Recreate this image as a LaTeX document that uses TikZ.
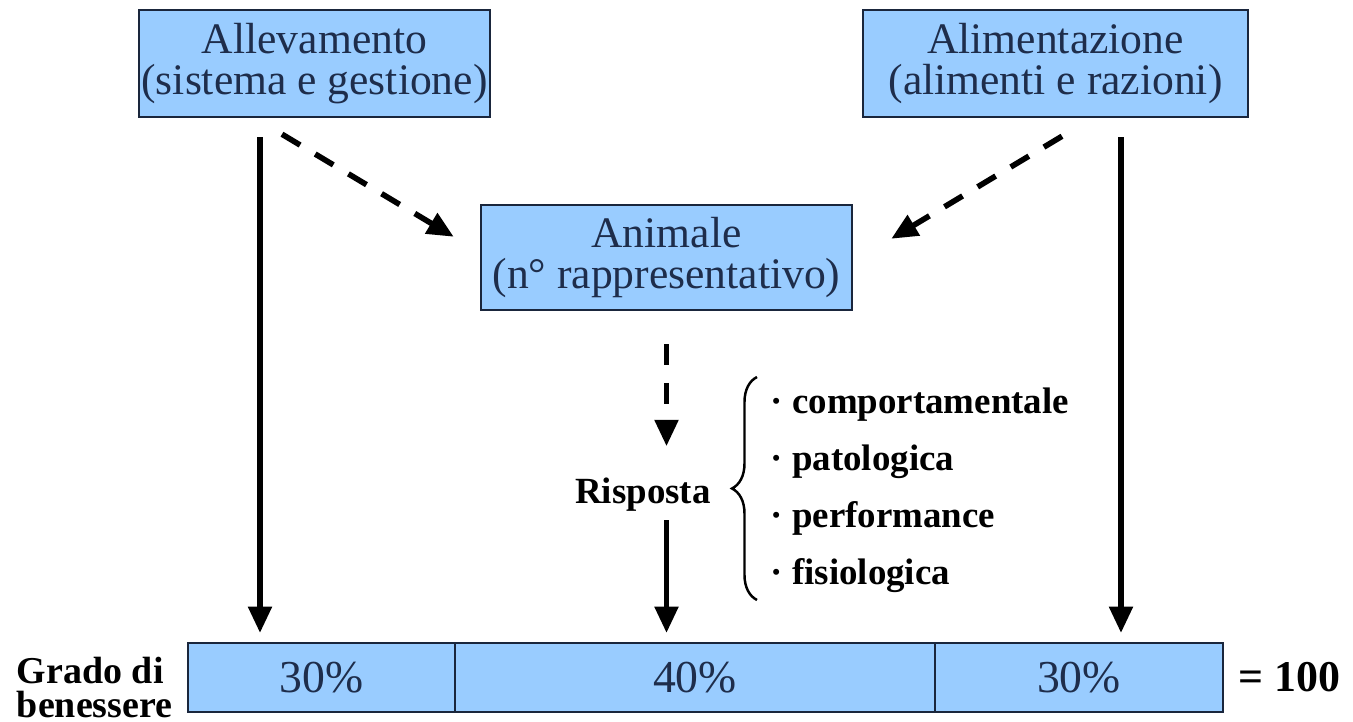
\documentclass[tikz,border=0pt]{standalone}
\usepackage{fontspec}
\setmainfont{Liberation Serif}
\usetikzlibrary{arrows.meta,positioning,decorations.pathreplacing}
\definecolor{boxfill}{RGB}{153,204,255}
\definecolor{boxline}{RGB}{26,38,60}
\definecolor{boxtext}{RGB}{30,45,75}

\begin{document}
\begin{tikzpicture}[
  box/.style={draw=boxline,line width=0.7pt,fill=boxfill,text=boxtext,align=center,
    font=\fontsize{12.4}{11.6}\selectfont,inner sep=0pt},
  cell/.style={box,font=\fontsize{13}{14}\selectfont,minimum height=0.69cm,anchor=west,outer sep=0pt},
  bold/.style={font=\fontsize{10.5}{16.2}\selectfont\bfseries,inner sep=0pt},
  solidarrow/.style={line width=1.6pt,-{Triangle[length=7.5pt,width=6.5pt]}},
  dasharrow/.style={solidarrow,dash pattern=on 6pt off 5pt}]
  \useasboundingbox (0,0) rectangle (13.53,7.21);
  \node[box,minimum width=3.51cm,minimum height=1.07cm] (alle) at (3.145,6.575) {Allevamento\\(sistema e gestione)};
  \node[box,minimum width=3.85cm,minimum height=1.07cm] (alim) at (10.555,6.575) {Alimentazione\\(alimenti e razioni)};
  \node[box,minimum width=3.71cm,minimum height=1.05cm] (anim) at (6.665,4.635) {Animale\\(n° rappresentativo)};
  \node[cell,minimum width=2.67cm] (c1) at (1.88,0.435) {30\%};
  \node[cell,minimum width=4.80cm,right=0pt of c1] (c2) {40\%};
  \node[cell,minimum width=2.88cm,right=0pt of c2] (c3) {30\%};
  \node[bold,align=left,font=\fontsize{10.8}{9.7}\selectfont\bfseries,left=0.15cm of c1,yshift=-0.1cm] (grado) {Grado di\\benessere};
  \node[bold,font=\fontsize{12.5}{14}\selectfont\bfseries,right=0.15cm of c3] (tot) {= 100};
  \node[bold] (risp) at (6.43,2.26) {Risposta};
  \node[bold,align=left,anchor=west] (resp) at (7.70,2.31) {· comportamentale\\· patologica\\· performance\\· fisiologica};
  \draw[decorate,decoration={brace,amplitude=0.25cm},line width=0.7pt]
    ([shift={(-0.13,-0.07)}]resp.south west) -- ([shift={(-0.13,0.1)}]resp.north west);
  \draw[solidarrow,shorten <=0.19cm,shorten >=0.1cm] ([xshift=-0.545cm]alle.south) -- ([xshift=-0.545cm]alle.south |- c1.north);
  \draw[solidarrow,shorten <=0.19cm,shorten >=0.1cm] ([xshift=0.655cm]alim.south) -- ([xshift=0.655cm]alim.south |- c3.north);
  \draw[dasharrow] ([shift={(-0.325,-0.16)}]alle.south) -- ([shift={(-0.26,-0.33)}]anim.north west);
  \draw[dasharrow] ([shift={(0.065,-0.18)}]alim.south) -- ([shift={(0.38,-0.35)}]anim.north east);
  \coordinate (rtop) at ([yshift=-1.35cm]anim.south);
  \draw[dasharrow,shorten <=0.33cm] (anim.south) -- (rtop);
  \draw[solidarrow,shorten <=0.08cm,shorten >=0.1cm] (anim.south |- risp.south) -- (anim.south |- c2.north);
\end{tikzpicture}
\end{document}
